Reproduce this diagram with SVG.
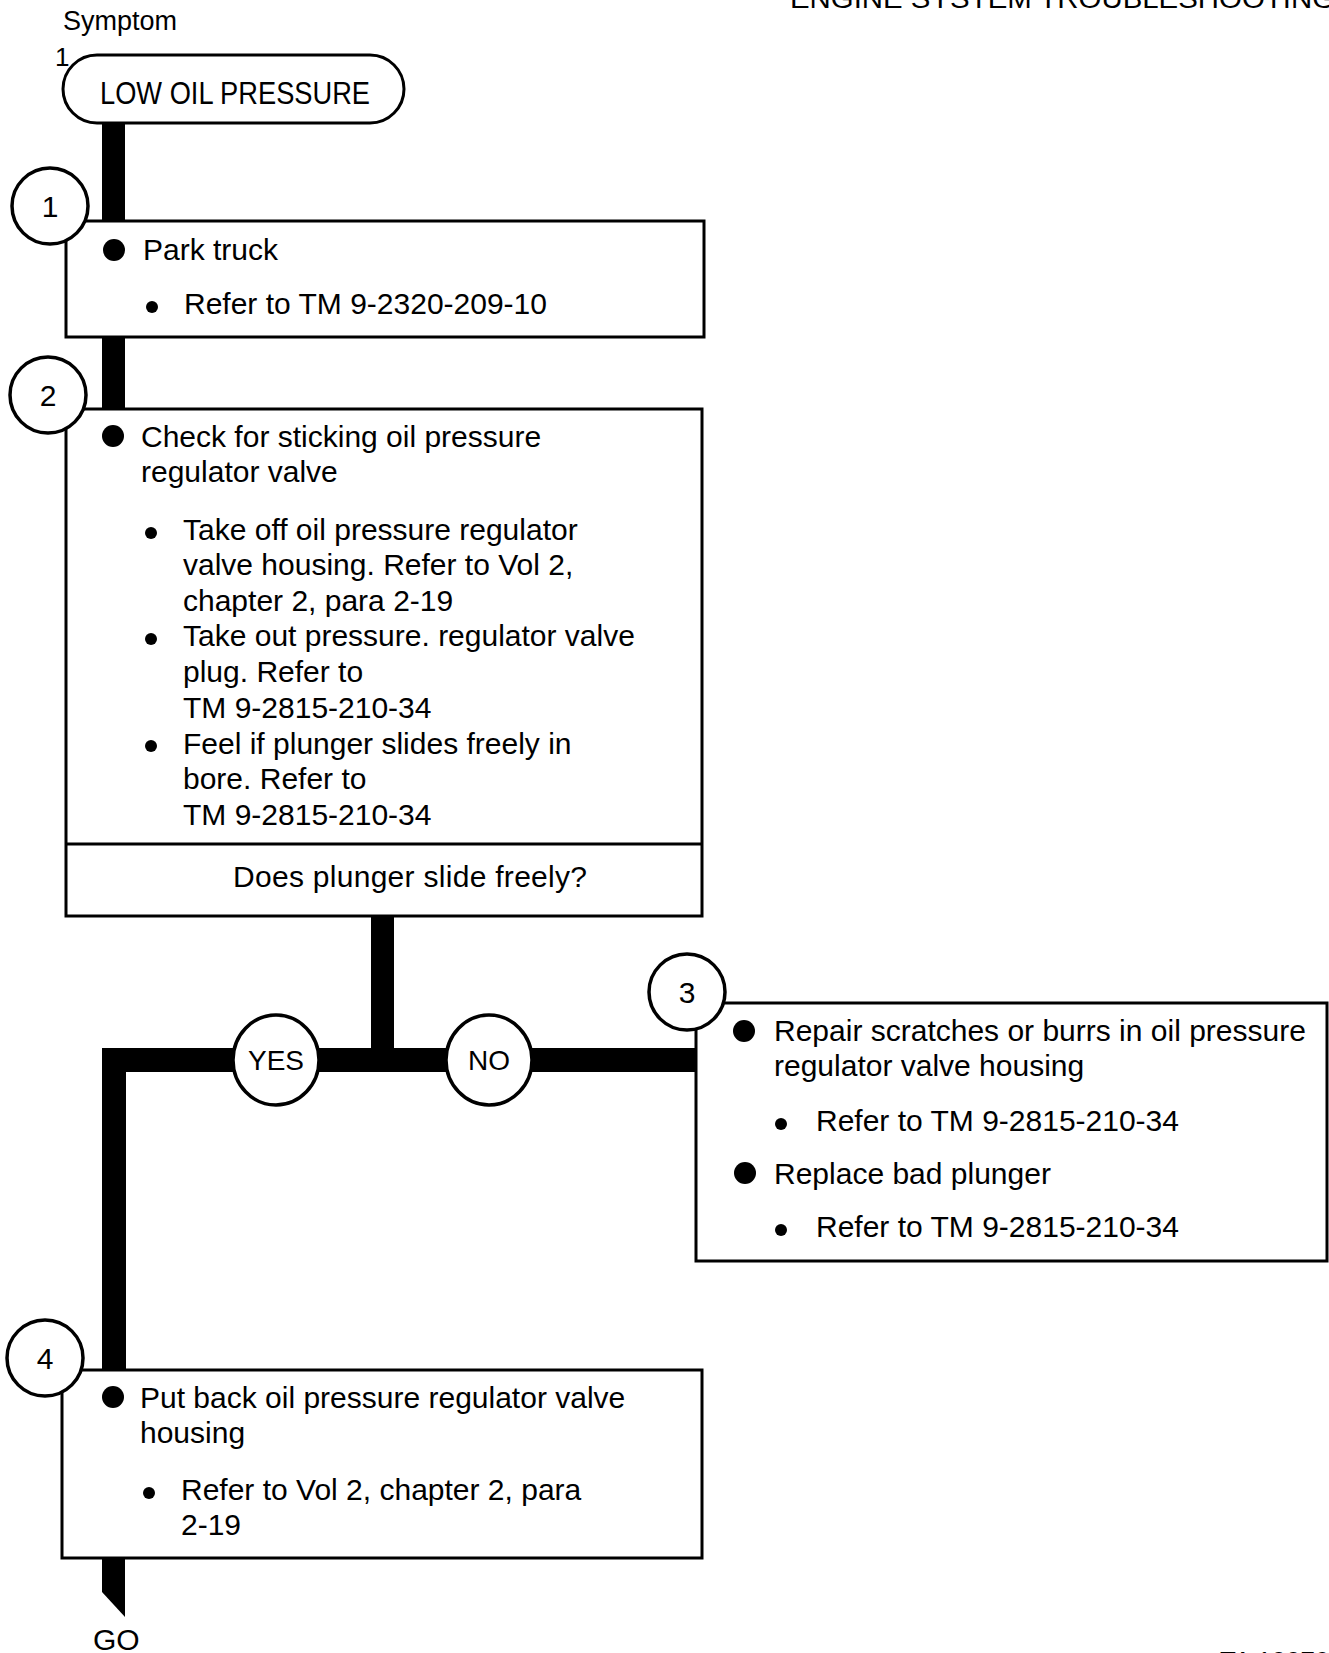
<svg xmlns="http://www.w3.org/2000/svg" width="1329" height="1653" viewBox="0 0 1329 1653">
<style>
text{font-family:"Liberation Sans",Arial,sans-serif;fill:#000}
.t{font-size:30px}
.box{fill:#fff;stroke:#000;stroke-width:3}
.circ{fill:#fff;stroke:#000;stroke-width:3.5}
.bar{fill:#000}
.n{font-size:30px;text-anchor:middle}
.yn{font-size:28px;text-anchor:middle}
</style>
<rect width="1329" height="1653" fill="#fff"/>
<text x="790" y="8" font-size="28" textLength="545" lengthAdjust="spacingAndGlyphs">ENGINE SYSTEM TROUBLESHOOTING</text>
<text x="63" y="30" font-size="27">Symptom</text>
<text x="55" y="66" font-size="26">1</text>
<g id="connectors">
<rect class="bar" x="102" y="120" width="23" height="104"/>
<rect class="bar" x="102" y="334" width="23" height="78"/>
<rect class="bar" x="371" y="914" width="23" height="158"/>
<rect class="bar" x="102" y="1048" width="594" height="24"/>
<rect class="bar" x="102" y="1048" width="24" height="325"/>
<polygon class="bar" points="102,1556 125,1556 125,1617 102,1592"/>
</g>
<g id="symptom">
<rect class="box" x="63" y="55" width="341" height="68" rx="34"/>
<text x="100" y="104" font-size="31" textLength="270" lengthAdjust="spacingAndGlyphs">LOW OIL PRESSURE</text>
</g>
<g id="step1">
<rect class="box" x="66" y="221" width="638" height="116"/>
<circle cx="114" cy="250" r="11"/>
<text class="t" x="143" y="260">Park truck</text>
<circle cx="152" cy="307" r="6"/>
<text class="t" x="184" y="314">Refer to TM 9-2320-209-10</text>
<circle class="circ" cx="50" cy="206" r="38"/>
<text class="n" x="50" y="217">1</text>
</g>
<g id="step2">
<rect class="box" x="66" y="409" width="636" height="507"/>
<line x1="66" y1="844" x2="702" y2="844" stroke="#000" stroke-width="3"/>
<circle cx="113" cy="436" r="11"/>
<text class="t" x="141" y="447">Check for sticking oil pressure</text>
<text class="t" x="141" y="482">regulator valve</text>
<circle cx="151" cy="533" r="6"/>
<text class="t" x="183" y="540">Take off oil pressure regulator</text>
<text class="t" x="183" y="575">valve housing.  Refer to Vol 2,</text>
<text class="t" x="183" y="611">chapter 2, para 2-19</text>
<circle cx="151" cy="639" r="6"/>
<text class="t" x="183" y="646">Take out pressure. regulator valve</text>
<text class="t" x="183" y="682">plug.  Refer to</text>
<text class="t" x="183" y="718">TM 9-2815-210-34</text>
<circle cx="151" cy="746" r="6"/>
<text class="t" x="183" y="754">Feel if plunger slides freely in</text>
<text class="t" x="183" y="789">bore.  Refer to</text>
<text class="t" x="183" y="825">TM 9-2815-210-34</text>
<text class="t" x="233" y="887" textLength="354">Does plunger slide freely?</text>
<circle class="circ" cx="48" cy="395" r="38"/>
<text class="n" x="48" y="406">2</text>
</g>
<g id="yes">
<ellipse class="circ" cx="276" cy="1060" rx="43" ry="45"/>
<text class="yn" x="276" y="1070">YES</text>
</g>
<g id="no">
<ellipse class="circ" cx="489" cy="1060" rx="43" ry="45"/>
<text class="yn" x="489" y="1070">NO</text>
</g>
<g id="step3">
<rect class="box" x="696" y="1003" width="631" height="258"/>
<circle cx="744" cy="1031" r="11"/>
<text class="t" x="774" y="1041">Repair scratches or burrs in oil pressure</text>
<text class="t" x="774" y="1076">regulator valve housing</text>
<circle cx="781" cy="1124" r="6"/>
<text class="t" x="816" y="1131">Refer to TM 9-2815-210-34</text>
<circle cx="745" cy="1173" r="11"/>
<text class="t" x="774" y="1184">Replace bad plunger</text>
<circle cx="781" cy="1230" r="6"/>
<text class="t" x="816" y="1237">Refer to TM 9-2815-210-34</text>
<circle class="circ" cx="687" cy="992" r="38"/>
<text class="n" x="687" y="1003">3</text>
</g>
<g id="step4">
<rect class="box" x="62" y="1370" width="640" height="188"/>
<circle cx="113" cy="1397" r="11"/>
<text class="t" x="140" y="1408">Put back oil pressure regulator valve</text>
<text class="t" x="140" y="1443">housing</text>
<circle cx="149" cy="1493" r="6"/>
<text class="t" x="181" y="1500">Refer to Vol 2, chapter 2, para</text>
<text class="t" x="181" y="1535">2-19</text>
<circle class="circ" cx="45" cy="1358" r="38"/>
<text class="n" x="45" y="1369">4</text>
</g>
<text x="93" y="1650" font-size="30">GO</text>
<text x="1220" y="1670" font-size="26">TA 100794</text>
</svg>
